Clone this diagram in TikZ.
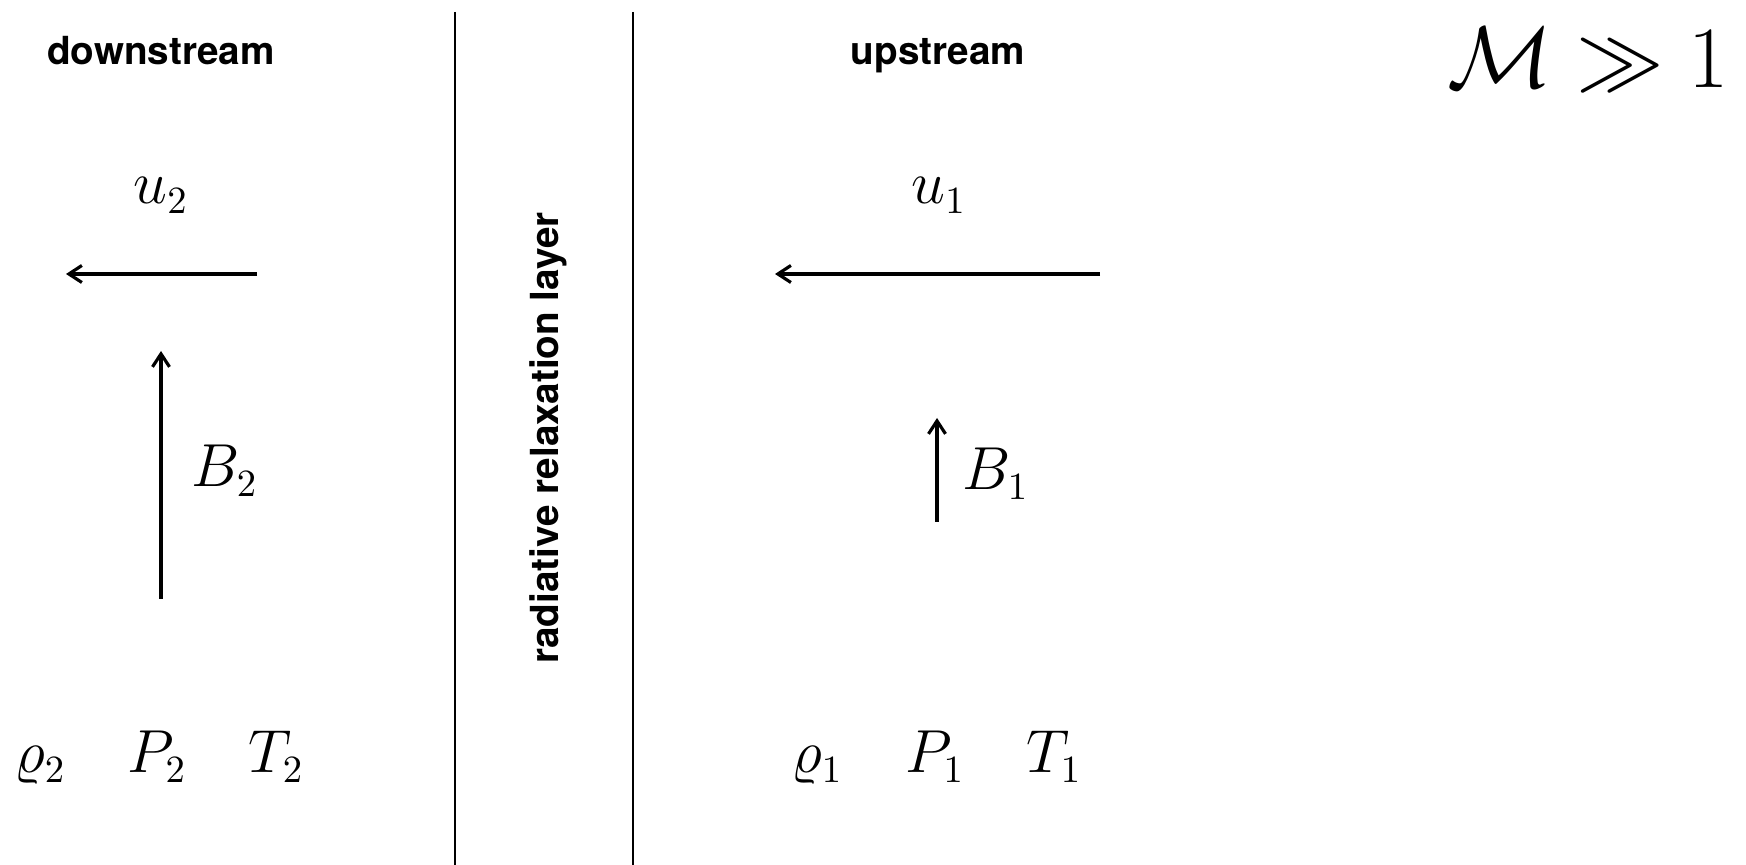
\documentclass[tikz,border=0pt]{standalone}
\usepackage{fontspec}
\newfontfamily\headfont{TeX Gyre Heros}
\usetikzlibrary{arrows.meta}

\begin{document}
\begin{tikzpicture}[x=0.01cm, y=-0.01cm, >={Straight Barb[length=1.3mm, width=1.7mm]},
    head/.style={font=\headfont\bfseries\fontsize{11}{13}\selectfont, inner sep=0pt, anchor=base},
    quant/.style={font=\fontsize{16}{19}\selectfont, inner sep=0pt, anchor=base},
    vec/.style={->, line width=0.9pt},
    wall/.style={line width=0.8pt}]

    \useasboundingbox (0,0) rectangle (1746,865);

    % Definice sloupců
    \def\xdown{161}
    \def\xup{937}
    \def\yrow{773}

    % 1. Hranice vrstvy
    \coordinate (wallLtop) at (455,12);
    \coordinate (wallLbot) at (455,865);
    \coordinate (wallRtop) at (633,12);
    \coordinate (wallRbot) at (633,865);
    \draw[wall] (wallLtop) -- (wallLbot);
    \draw[wall] (wallRtop) -- (wallRbot);
    \node[head, rotate=90] (layer) at (558,438) {radiative relaxation layer};

    % 2. Nadpisy
    \node[head] (down) at (\xdown,65) {downstream};
    \node[head] (up) at (\xup+1,65) {upstream};
    \node[quant, font=\fontsize{30}{36}\selectfont] (mach) at (1588,88) {$\mathcal{M}\gg1$};

    % 3. Rychlosti
    \node[quant] (utwo) at (\xdown,204) {$u_2$};
    \node[quant] (uone) at (\xup+2,204) {$u_1$};
    \coordinate (utwoS) at (257,274);
    \coordinate (utwoE) at (66,274);
    \coordinate (uoneS) at (1100,274);
    \coordinate (uoneE) at (775,274);
    \draw[vec] (utwoS) -- (utwoE);
    \draw[vec] (uoneS) -- (uoneE);

    % 4. Magnetické pole
    \coordinate (btwoS) at (\xdown,599);
    \coordinate (btwoE) at (\xdown,351);
    \coordinate (boneS) at (\xup,522);
    \coordinate (boneE) at (\xup,418);
    \draw[vec] (btwoS) -- (btwoE);
    \draw[vec] (boneS) -- (boneE);
    \node[quant, anchor=base west] (btwo) at (191,487) {$B_2$};
    \node[quant, anchor=base west] (bone) at (962,490) {$B_1$};

    % 5. Stavové veličiny
    \foreach \x/\name/\lab in {40/rhotwo/\varrho_2, 157/ptwo/P_2, 276/ttwo/T_2,
                               817/rhoone/\varrho_1, 935/pone/P_1, 1054/tone/T_1} {
        \node[quant] (\name) at (\x,\yrow) {$\lab$};
    }

\end{tikzpicture}
\end{document}
